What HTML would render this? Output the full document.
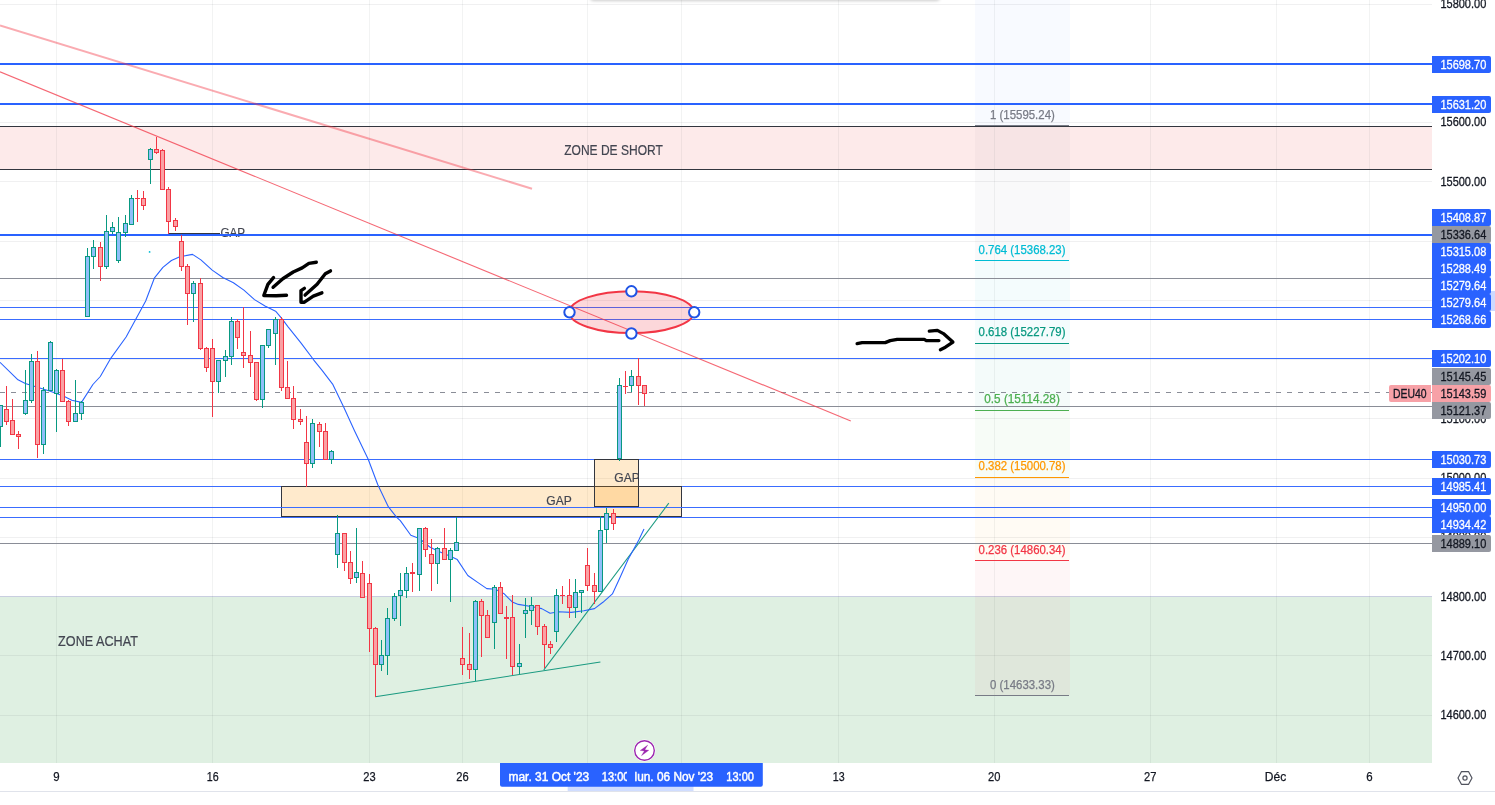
<!DOCTYPE html>
<html lang="fr"><head><meta charset="utf-8"><title>DEU40</title>
<style>
html,body{margin:0;padding:0;background:#fff;}
body{width:1495px;height:805px;overflow:hidden;font-family:"Liberation Sans", sans-serif;}
svg{display:block;position:absolute;left:0;top:0;}
text{font-family:"Liberation Sans", sans-serif;}
</style></head><body>
<svg width="1495" height="805" viewBox="0 0 1495 805">
<defs>
<clipPath id="chart"><rect x="0" y="0" width="1432" height="763"/></clipPath>
<clipPath id="gap2"><rect x="594" y="459" width="44.5" height="48"/></clipPath>
<clipPath id="lab1"><rect x="500" y="763" width="127" height="24"/></clipPath>
<filter id="blur" x="-5%" y="-100%" width="110%" height="300%"><feGaussianBlur stdDeviation="1.6"/></filter>
<linearGradient id="topsh" x1="0" y1="0" x2="0" y2="1"><stop offset="0" stop-color="#000" stop-opacity="0.13"/><stop offset="1" stop-color="#000" stop-opacity="0"/></linearGradient>
</defs>
<rect x="0" y="0" width="1495" height="805" fill="#ffffff"/>
<g clip-path="url(#chart)">

<g shape-rendering="crispEdges">
<rect x="0" y="127" width="1432" height="42" fill="#fdeaea"/>
<rect x="0" y="597" width="1432" height="166" fill="#dff0e2"/>
<rect x="0" y="596" width="1432" height="1" fill="#c9cee0"/>
<rect x="56" y="0" width="1" height="763" fill="#2a2e39" fill-opacity="0.06"/>
<rect x="212" y="0" width="1" height="763" fill="#2a2e39" fill-opacity="0.06"/>
<rect x="369" y="0" width="1" height="763" fill="#2a2e39" fill-opacity="0.06"/>
<rect x="462" y="0" width="1" height="763" fill="#2a2e39" fill-opacity="0.06"/>
<rect x="587" y="0" width="1" height="763" fill="#2a2e39" fill-opacity="0.06"/>
<rect x="681" y="0" width="1" height="763" fill="#2a2e39" fill-opacity="0.06"/>
<rect x="838" y="0" width="1" height="763" fill="#2a2e39" fill-opacity="0.06"/>
<rect x="994" y="0" width="1" height="763" fill="#2a2e39" fill-opacity="0.06"/>
<rect x="1150" y="0" width="1" height="763" fill="#2a2e39" fill-opacity="0.06"/>
<rect x="1276" y="0" width="1" height="763" fill="#2a2e39" fill-opacity="0.06"/>
<rect x="1369" y="0" width="1" height="763" fill="#2a2e39" fill-opacity="0.06"/>
<rect x="0" y="4" width="1432" height="1" fill="#2a2e39" fill-opacity="0.07"/>
<rect x="0" y="63" width="1432" height="1" fill="#2a2e39" fill-opacity="0.07"/>
<rect x="0" y="122" width="1432" height="1" fill="#2a2e39" fill-opacity="0.07"/>
<rect x="0" y="181" width="1432" height="1" fill="#2a2e39" fill-opacity="0.07"/>
<rect x="0" y="241" width="1432" height="1" fill="#2a2e39" fill-opacity="0.07"/>
<rect x="0" y="300" width="1432" height="1" fill="#2a2e39" fill-opacity="0.07"/>
<rect x="0" y="359" width="1432" height="1" fill="#2a2e39" fill-opacity="0.07"/>
<rect x="0" y="418" width="1432" height="1" fill="#2a2e39" fill-opacity="0.07"/>
<rect x="0" y="478" width="1432" height="1" fill="#2a2e39" fill-opacity="0.07"/>
<rect x="0" y="537" width="1432" height="1" fill="#2a2e39" fill-opacity="0.07"/>
<rect x="0" y="655" width="1432" height="1" fill="#2a2e39" fill-opacity="0.07"/>
<rect x="0" y="715" width="1432" height="1" fill="#2a2e39" fill-opacity="0.07"/>
<rect x="975" y="0" width="95" height="125" fill="#2962ff" fill-opacity="0.03"/>
<rect x="975" y="125" width="95" height="135" fill="#787b86" fill-opacity="0.045"/>
<rect x="975" y="260" width="95" height="83" fill="#00bcd4" fill-opacity="0.045"/>
<rect x="975" y="343" width="95" height="67" fill="#089981" fill-opacity="0.045"/>
<rect x="975" y="410" width="95" height="67" fill="#4caf50" fill-opacity="0.045"/>
<rect x="975" y="477" width="95" height="83" fill="#ff9800" fill-opacity="0.045"/>
<rect x="975" y="560" width="95" height="135" fill="#f23645" fill-opacity="0.045"/>
<rect x="0" y="126" width="1432" height="1" fill="#33363f"/>
<rect x="0" y="169" width="1432" height="1" fill="#33363f"/>
<rect x="0" y="278" width="1432" height="1" fill="#8a8d97"/>
<rect x="0" y="406" width="1432" height="1" fill="#8a8d97"/>
<rect x="0" y="543" width="1432" height="1" fill="#8a8d97"/>
<rect x="0" y="307" width="1432" height="1" fill="#3a6cff"/>
<rect x="0" y="319" width="1432" height="1" fill="#3a6cff"/>
<rect x="0" y="358" width="1432" height="1" fill="#3a6cff"/>
<rect x="0" y="459" width="1432" height="1" fill="#3a6cff"/>
<rect x="0" y="486" width="1432" height="1" fill="#3a6cff"/>
<rect x="0" y="507" width="1432" height="1" fill="#3a6cff"/>
<rect x="0" y="517" width="1432" height="1" fill="#3a6cff"/>
<rect x="0" y="392" width="5" height="1" fill="#8a8d97"/>
<rect x="11" y="392" width="5" height="1" fill="#8a8d97"/>
<rect x="22" y="392" width="5" height="1" fill="#8a8d97"/>
<rect x="33" y="392" width="5" height="1" fill="#8a8d97"/>
<rect x="44" y="392" width="5" height="1" fill="#8a8d97"/>
<rect x="55" y="392" width="5" height="1" fill="#8a8d97"/>
<rect x="66" y="392" width="5" height="1" fill="#8a8d97"/>
<rect x="77" y="392" width="5" height="1" fill="#8a8d97"/>
<rect x="88" y="392" width="5" height="1" fill="#8a8d97"/>
<rect x="99" y="392" width="5" height="1" fill="#8a8d97"/>
<rect x="110" y="392" width="5" height="1" fill="#8a8d97"/>
<rect x="121" y="392" width="5" height="1" fill="#8a8d97"/>
<rect x="132" y="392" width="5" height="1" fill="#8a8d97"/>
<rect x="143" y="392" width="5" height="1" fill="#8a8d97"/>
<rect x="154" y="392" width="5" height="1" fill="#8a8d97"/>
<rect x="165" y="392" width="5" height="1" fill="#8a8d97"/>
<rect x="176" y="392" width="5" height="1" fill="#8a8d97"/>
<rect x="187" y="392" width="5" height="1" fill="#8a8d97"/>
<rect x="198" y="392" width="5" height="1" fill="#8a8d97"/>
<rect x="209" y="392" width="5" height="1" fill="#8a8d97"/>
<rect x="220" y="392" width="5" height="1" fill="#8a8d97"/>
<rect x="231" y="392" width="5" height="1" fill="#8a8d97"/>
<rect x="242" y="392" width="5" height="1" fill="#8a8d97"/>
<rect x="253" y="392" width="5" height="1" fill="#8a8d97"/>
<rect x="264" y="392" width="5" height="1" fill="#8a8d97"/>
<rect x="275" y="392" width="5" height="1" fill="#8a8d97"/>
<rect x="286" y="392" width="5" height="1" fill="#8a8d97"/>
<rect x="297" y="392" width="5" height="1" fill="#8a8d97"/>
<rect x="308" y="392" width="5" height="1" fill="#8a8d97"/>
<rect x="319" y="392" width="5" height="1" fill="#8a8d97"/>
<rect x="330" y="392" width="5" height="1" fill="#8a8d97"/>
<rect x="341" y="392" width="5" height="1" fill="#8a8d97"/>
<rect x="352" y="392" width="5" height="1" fill="#8a8d97"/>
<rect x="363" y="392" width="5" height="1" fill="#8a8d97"/>
<rect x="374" y="392" width="5" height="1" fill="#8a8d97"/>
<rect x="385" y="392" width="5" height="1" fill="#8a8d97"/>
<rect x="396" y="392" width="5" height="1" fill="#8a8d97"/>
<rect x="407" y="392" width="5" height="1" fill="#8a8d97"/>
<rect x="418" y="392" width="5" height="1" fill="#8a8d97"/>
<rect x="429" y="392" width="5" height="1" fill="#8a8d97"/>
<rect x="440" y="392" width="5" height="1" fill="#8a8d97"/>
<rect x="451" y="392" width="5" height="1" fill="#8a8d97"/>
<rect x="462" y="392" width="5" height="1" fill="#8a8d97"/>
<rect x="473" y="392" width="5" height="1" fill="#8a8d97"/>
<rect x="484" y="392" width="5" height="1" fill="#8a8d97"/>
<rect x="495" y="392" width="5" height="1" fill="#8a8d97"/>
<rect x="506" y="392" width="5" height="1" fill="#8a8d97"/>
<rect x="517" y="392" width="5" height="1" fill="#8a8d97"/>
<rect x="528" y="392" width="5" height="1" fill="#8a8d97"/>
<rect x="539" y="392" width="5" height="1" fill="#8a8d97"/>
<rect x="550" y="392" width="5" height="1" fill="#8a8d97"/>
<rect x="561" y="392" width="5" height="1" fill="#8a8d97"/>
<rect x="572" y="392" width="5" height="1" fill="#8a8d97"/>
<rect x="583" y="392" width="5" height="1" fill="#8a8d97"/>
<rect x="594" y="392" width="5" height="1" fill="#8a8d97"/>
<rect x="605" y="392" width="5" height="1" fill="#8a8d97"/>
<rect x="616" y="392" width="5" height="1" fill="#8a8d97"/>
<rect x="627" y="392" width="5" height="1" fill="#8a8d97"/>
<rect x="638" y="392" width="5" height="1" fill="#8a8d97"/>
<rect x="649" y="392" width="5" height="1" fill="#8a8d97"/>
<rect x="660" y="392" width="5" height="1" fill="#8a8d97"/>
<rect x="671" y="392" width="5" height="1" fill="#8a8d97"/>
<rect x="682" y="392" width="5" height="1" fill="#8a8d97"/>
<rect x="693" y="392" width="5" height="1" fill="#8a8d97"/>
<rect x="704" y="392" width="5" height="1" fill="#8a8d97"/>
<rect x="715" y="392" width="5" height="1" fill="#8a8d97"/>
<rect x="726" y="392" width="5" height="1" fill="#8a8d97"/>
<rect x="737" y="392" width="5" height="1" fill="#8a8d97"/>
<rect x="748" y="392" width="5" height="1" fill="#8a8d97"/>
<rect x="759" y="392" width="5" height="1" fill="#8a8d97"/>
<rect x="770" y="392" width="5" height="1" fill="#8a8d97"/>
<rect x="781" y="392" width="5" height="1" fill="#8a8d97"/>
<rect x="792" y="392" width="5" height="1" fill="#8a8d97"/>
<rect x="803" y="392" width="5" height="1" fill="#8a8d97"/>
<rect x="814" y="392" width="5" height="1" fill="#8a8d97"/>
<rect x="825" y="392" width="5" height="1" fill="#8a8d97"/>
<rect x="836" y="392" width="5" height="1" fill="#8a8d97"/>
<rect x="847" y="392" width="5" height="1" fill="#8a8d97"/>
<rect x="858" y="392" width="5" height="1" fill="#8a8d97"/>
<rect x="869" y="392" width="5" height="1" fill="#8a8d97"/>
<rect x="880" y="392" width="5" height="1" fill="#8a8d97"/>
<rect x="891" y="392" width="5" height="1" fill="#8a8d97"/>
<rect x="902" y="392" width="5" height="1" fill="#8a8d97"/>
<rect x="913" y="392" width="5" height="1" fill="#8a8d97"/>
<rect x="924" y="392" width="5" height="1" fill="#8a8d97"/>
<rect x="935" y="392" width="5" height="1" fill="#8a8d97"/>
<rect x="946" y="392" width="5" height="1" fill="#8a8d97"/>
<rect x="957" y="392" width="5" height="1" fill="#8a8d97"/>
<rect x="968" y="392" width="5" height="1" fill="#8a8d97"/>
<rect x="979" y="392" width="5" height="1" fill="#8a8d97"/>
<rect x="990" y="392" width="5" height="1" fill="#8a8d97"/>
<rect x="1001" y="392" width="5" height="1" fill="#8a8d97"/>
<rect x="1012" y="392" width="5" height="1" fill="#8a8d97"/>
<rect x="1023" y="392" width="5" height="1" fill="#8a8d97"/>
<rect x="1034" y="392" width="5" height="1" fill="#8a8d97"/>
<rect x="1045" y="392" width="5" height="1" fill="#8a8d97"/>
<rect x="1056" y="392" width="5" height="1" fill="#8a8d97"/>
<rect x="1067" y="392" width="5" height="1" fill="#8a8d97"/>
<rect x="1078" y="392" width="5" height="1" fill="#8a8d97"/>
<rect x="1089" y="392" width="5" height="1" fill="#8a8d97"/>
<rect x="1100" y="392" width="5" height="1" fill="#8a8d97"/>
<rect x="1111" y="392" width="5" height="1" fill="#8a8d97"/>
<rect x="1122" y="392" width="5" height="1" fill="#8a8d97"/>
<rect x="1133" y="392" width="5" height="1" fill="#8a8d97"/>
<rect x="1144" y="392" width="5" height="1" fill="#8a8d97"/>
<rect x="1155" y="392" width="5" height="1" fill="#8a8d97"/>
<rect x="1166" y="392" width="5" height="1" fill="#8a8d97"/>
<rect x="1177" y="392" width="5" height="1" fill="#8a8d97"/>
<rect x="1188" y="392" width="5" height="1" fill="#8a8d97"/>
<rect x="1199" y="392" width="5" height="1" fill="#8a8d97"/>
<rect x="1210" y="392" width="5" height="1" fill="#8a8d97"/>
<rect x="1221" y="392" width="5" height="1" fill="#8a8d97"/>
<rect x="1232" y="392" width="5" height="1" fill="#8a8d97"/>
<rect x="1243" y="392" width="5" height="1" fill="#8a8d97"/>
<rect x="1254" y="392" width="5" height="1" fill="#8a8d97"/>
<rect x="1265" y="392" width="5" height="1" fill="#8a8d97"/>
<rect x="1276" y="392" width="5" height="1" fill="#8a8d97"/>
<rect x="1287" y="392" width="5" height="1" fill="#8a8d97"/>
<rect x="1298" y="392" width="5" height="1" fill="#8a8d97"/>
<rect x="1309" y="392" width="5" height="1" fill="#8a8d97"/>
<rect x="1320" y="392" width="5" height="1" fill="#8a8d97"/>
<rect x="1331" y="392" width="5" height="1" fill="#8a8d97"/>
<rect x="1342" y="392" width="5" height="1" fill="#8a8d97"/>
<rect x="1353" y="392" width="5" height="1" fill="#8a8d97"/>
<rect x="1364" y="392" width="5" height="1" fill="#8a8d97"/>
<rect x="1375" y="392" width="5" height="1" fill="#8a8d97"/>
<rect x="1386" y="392" width="5" height="1" fill="#8a8d97"/>
<rect x="1397" y="392" width="5" height="1" fill="#8a8d97"/>
<rect x="1408" y="392" width="5" height="1" fill="#8a8d97"/>
<rect x="1419" y="392" width="5" height="1" fill="#8a8d97"/>
<rect x="1430" y="392" width="2" height="1" fill="#8a8d97"/>
<rect x="168" y="233" width="52" height="1" fill="#33363f"/>
</g>
<text x="220.4" y="236.6" font-size="13.5" fill="#434651" stroke="#434651" stroke-width="0.2" textLength="24.7" lengthAdjust="spacingAndGlyphs">GAP</text>
<g shape-rendering="crispEdges">
<rect x="0" y="63" width="1432" height="2" fill="#2962ff"/>
<rect x="0" y="103" width="1432" height="2" fill="#2962ff"/>
<rect x="0" y="234" width="1432" height="2" fill="#2962ff"/>
<rect x="975" y="125" width="94" height="1" fill="#787b86"/>
<rect x="975" y="260" width="94" height="1" fill="#00bcd4"/>
<rect x="975" y="343" width="94" height="1" fill="#089981"/>
<rect x="975" y="410" width="94" height="1" fill="#4caf50"/>
<rect x="975" y="477" width="94" height="1" fill="#ff9800"/>
<rect x="975" y="560" width="94" height="1" fill="#f23645"/>
<rect x="975" y="695" width="94" height="1" fill="#787b86"/>
</g>
<text x="990.0" y="118.5" font-size="12.1" fill="#787b86" stroke="#787b86" stroke-width="0.25" textLength="64.8" lengthAdjust="spacingAndGlyphs">1 (15595.24)</text>
<text x="978.6" y="253.5" font-size="12.1" fill="#00bcd4" stroke="#00bcd4" stroke-width="0.25" textLength="86.9" lengthAdjust="spacingAndGlyphs">0.764 (15368.23)</text>
<text x="978.6" y="336.3" font-size="12.1" fill="#089981" stroke="#089981" stroke-width="0.25" textLength="86.9" lengthAdjust="spacingAndGlyphs">0.618 (15227.79)</text>
<text x="984.3000000000001" y="403.4" font-size="12.1" fill="#4caf50" stroke="#4caf50" stroke-width="0.25" textLength="75.5" lengthAdjust="spacingAndGlyphs">0.5 (15114.28)</text>
<text x="978.6" y="470.4" font-size="12.1" fill="#ff9800" stroke="#ff9800" stroke-width="0.25" textLength="86.9" lengthAdjust="spacingAndGlyphs">0.382 (15000.78)</text>
<text x="978.6" y="553.7" font-size="12.1" fill="#f23645" stroke="#f23645" stroke-width="0.25" textLength="86.9" lengthAdjust="spacingAndGlyphs">0.236 (14860.34)</text>
<text x="990.0" y="688.7" font-size="12.1" fill="#787b86" stroke="#787b86" stroke-width="0.25" textLength="64.8" lengthAdjust="spacingAndGlyphs">0 (14633.33)</text>
<g shape-rendering="crispEdges">
<rect x="281.5" y="486.5" width="400" height="30" fill="#ff9800" fill-opacity="0.2" stroke="#33363f" stroke-width="1"/>
<rect x="594.5" y="459.5" width="44" height="47" fill="#ff9800" fill-opacity="0.2" stroke="#33363f" stroke-width="1"/>
</g>
<text x="546.3" y="505.2" font-size="13.5" fill="#434651" stroke="#434651" stroke-width="0.2" textLength="25.4" lengthAdjust="spacingAndGlyphs">GAP</text>
<g clip-path="url(#gap2)"><text x="614.3" y="482.3" font-size="13.5" fill="#434651" stroke="#434651" stroke-width="0.2" textLength="25.4" lengthAdjust="spacingAndGlyphs">GAP</text></g>
<g shape-rendering="crispEdges">
<rect x="281" y="507" width="401" height="1" fill="#3a6cff"/>
<rect x="281" y="517" width="401" height="1" fill="#3a6cff"/>
</g>
<text x="564.2" y="155" font-size="14" fill="#434651" stroke="#434651" stroke-width="0.2" textLength="98.6" lengthAdjust="spacingAndGlyphs">ZONE DE SHORT</text>
<text x="58.1" y="646.1" font-size="14" fill="#434651" stroke="#434651" stroke-width="0.2" textLength="79.8" lengthAdjust="spacingAndGlyphs">ZONE ACHAT</text>
<line x1="0" y1="25.5" x2="532" y2="188.7" stroke="#f23645" stroke-opacity="0.42" stroke-width="2"/>
<line x1="0" y1="71.8" x2="850.8" y2="420.9" stroke="#f23645" stroke-opacity="0.75" stroke-width="1.1"/>
<line x1="375.3" y1="696.7" x2="600.4" y2="662.1" stroke="#1a9a80" stroke-width="1.05"/>
<line x1="543.8" y1="669.9" x2="668.8" y2="503.1" stroke="#1a9a80" stroke-width="1.05"/>
<polyline points="0.0,362.3 18.0,379.8 25.3,383.4 50.3,391.2 63.4,396.1 71.8,400.3 81.5,402.4 92.9,384.5 100.3,376.5 110.9,358.1 126.1,337.0 145.7,301.0 154.5,277.8 162.9,267.3 171.4,260.5 179.8,256.7 192.5,254.4 200.9,259.9 212.2,270.1 222.8,277.5 233.4,282.7 243.9,290.1 254.5,299.6 265.0,306.0 275.6,311.2 281.9,318.6 288.3,327.1 300.9,342.9 313.6,359.8 322.1,370.4 332.6,384.1 343.9,407.5 354.5,430.7 368.2,459.2 377.7,484.5 388.3,506.7 396.7,517.3 400.3,520.6 410.8,535.3 419.3,538.5 429.8,547.0 438.3,551.2 450.9,556.5 457.3,559.6 467.8,575.5 478.4,582.9 486.8,588.6 495.3,589.2 503.7,593.4 512.2,601.9 518.4,604.4 531.1,606.5 541.7,608.6 550.1,613.3 558.6,611.8 571.2,612.4 583.9,610.8 594.5,608.6 602.9,602.3 612.4,593.9 619.8,578.0 628.3,559.0 638.8,540.0 644.0,529.0" fill="none" stroke="#2962ff" stroke-width="1.08" stroke-linejoin="round"/>
<g shape-rendering="crispEdges">
<rect x="0" y="405" width="1" height="42" fill="#089981"/>
<rect x="-2" y="405" width="5" height="22" fill="#089981"/>
<rect x="-1" y="406" width="3" height="20" fill="#90bff9"/>
<rect x="6" y="386" width="1" height="39" fill="#f23645"/>
<rect x="4" y="409" width="5" height="13" fill="#f23645"/>
<rect x="5" y="410" width="3" height="11" fill="#faa1a4"/>
<rect x="12" y="399" width="1" height="36" fill="#f23645"/>
<rect x="10" y="420" width="5" height="15" fill="#f23645"/>
<rect x="11" y="421" width="3" height="13" fill="#faa1a4"/>
<rect x="18" y="431" width="1" height="18" fill="#f23645"/>
<rect x="16" y="434" width="5" height="3" fill="#f23645"/>
<rect x="17" y="435" width="3" height="1" fill="#faa1a4"/>
<rect x="25" y="370" width="1" height="45" fill="#089981"/>
<rect x="23" y="400" width="5" height="14" fill="#089981"/>
<rect x="24" y="401" width="3" height="12" fill="#90bff9"/>
<rect x="31" y="354" width="1" height="49" fill="#089981"/>
<rect x="29" y="361" width="5" height="40" fill="#089981"/>
<rect x="30" y="362" width="3" height="38" fill="#90bff9"/>
<rect x="37" y="351" width="1" height="107" fill="#f23645"/>
<rect x="35" y="361" width="5" height="84" fill="#f23645"/>
<rect x="36" y="362" width="3" height="82" fill="#faa1a4"/>
<rect x="43" y="387" width="1" height="67" fill="#089981"/>
<rect x="41" y="390" width="5" height="55" fill="#089981"/>
<rect x="42" y="391" width="3" height="53" fill="#90bff9"/>
<rect x="50" y="341" width="1" height="50" fill="#089981"/>
<rect x="48" y="342" width="5" height="49" fill="#089981"/>
<rect x="49" y="343" width="3" height="47" fill="#90bff9"/>
<rect x="56" y="369" width="1" height="63" fill="#089981"/>
<rect x="54" y="370" width="5" height="24" fill="#089981"/>
<rect x="55" y="371" width="3" height="22" fill="#90bff9"/>
<rect x="62" y="359" width="1" height="43" fill="#f23645"/>
<rect x="60" y="370" width="5" height="32" fill="#f23645"/>
<rect x="61" y="371" width="3" height="30" fill="#faa1a4"/>
<rect x="68" y="400" width="1" height="26" fill="#f23645"/>
<rect x="66" y="401" width="5" height="21" fill="#f23645"/>
<rect x="67" y="402" width="3" height="19" fill="#faa1a4"/>
<rect x="75" y="380" width="1" height="42" fill="#089981"/>
<rect x="73" y="413" width="5" height="9" fill="#089981"/>
<rect x="74" y="414" width="3" height="7" fill="#90bff9"/>
<rect x="81" y="401" width="1" height="19" fill="#089981"/>
<rect x="79" y="402" width="5" height="12" fill="#089981"/>
<rect x="80" y="403" width="3" height="10" fill="#90bff9"/>
<rect x="87" y="248" width="1" height="69" fill="#089981"/>
<rect x="85" y="256" width="5" height="61" fill="#089981"/>
<rect x="86" y="257" width="3" height="59" fill="#90bff9"/>
<rect x="93" y="240" width="1" height="29" fill="#089981"/>
<rect x="91" y="247" width="5" height="10" fill="#089981"/>
<rect x="92" y="248" width="3" height="8" fill="#90bff9"/>
<rect x="100" y="242" width="1" height="39" fill="#f23645"/>
<rect x="98" y="247" width="5" height="20" fill="#f23645"/>
<rect x="99" y="248" width="3" height="18" fill="#faa1a4"/>
<rect x="106" y="215" width="1" height="54" fill="#089981"/>
<rect x="104" y="231" width="5" height="36" fill="#089981"/>
<rect x="105" y="232" width="3" height="34" fill="#90bff9"/>
<rect x="112" y="222" width="1" height="12" fill="#089981"/>
<rect x="110" y="227" width="5" height="5" fill="#089981"/>
<rect x="111" y="228" width="3" height="3" fill="#90bff9"/>
<rect x="118" y="217" width="1" height="46" fill="#089981"/>
<rect x="116" y="232" width="5" height="29" fill="#089981"/>
<rect x="117" y="233" width="3" height="27" fill="#90bff9"/>
<rect x="125" y="215" width="1" height="22" fill="#089981"/>
<rect x="123" y="223" width="5" height="10" fill="#089981"/>
<rect x="124" y="224" width="3" height="8" fill="#90bff9"/>
<rect x="131" y="195" width="1" height="30" fill="#089981"/>
<rect x="129" y="198" width="5" height="27" fill="#089981"/>
<rect x="130" y="199" width="3" height="25" fill="#90bff9"/>
<rect x="137" y="190" width="1" height="32" fill="#f23645"/>
<rect x="135" y="198" width="5" height="1" fill="#f23645"/>
<rect x="143" y="191" width="1" height="19" fill="#f23645"/>
<rect x="141" y="198" width="5" height="8" fill="#f23645"/>
<rect x="142" y="199" width="3" height="6" fill="#faa1a4"/>
<rect x="150" y="148" width="1" height="36" fill="#089981"/>
<rect x="148" y="149" width="5" height="11" fill="#089981"/>
<rect x="149" y="150" width="3" height="9" fill="#90bff9"/>
<rect x="156" y="137" width="1" height="17" fill="#f23645"/>
<rect x="154" y="149" width="5" height="4" fill="#f23645"/>
<rect x="155" y="150" width="3" height="2" fill="#faa1a4"/>
<rect x="162" y="149" width="1" height="41" fill="#f23645"/>
<rect x="160" y="150" width="5" height="40" fill="#f23645"/>
<rect x="161" y="151" width="3" height="38" fill="#faa1a4"/>
<rect x="168" y="187" width="1" height="47" fill="#f23645"/>
<rect x="166" y="189" width="5" height="33" fill="#f23645"/>
<rect x="167" y="190" width="3" height="31" fill="#faa1a4"/>
<rect x="175" y="218" width="1" height="13" fill="#f23645"/>
<rect x="173" y="220" width="5" height="7" fill="#f23645"/>
<rect x="174" y="221" width="3" height="5" fill="#faa1a4"/>
<rect x="181" y="235" width="1" height="36" fill="#f23645"/>
<rect x="179" y="241" width="5" height="26" fill="#f23645"/>
<rect x="180" y="242" width="3" height="24" fill="#faa1a4"/>
<rect x="187" y="264" width="1" height="61" fill="#f23645"/>
<rect x="185" y="266" width="5" height="28" fill="#f23645"/>
<rect x="186" y="267" width="3" height="26" fill="#faa1a4"/>
<rect x="193" y="281" width="1" height="41" fill="#089981"/>
<rect x="191" y="283" width="5" height="11" fill="#089981"/>
<rect x="192" y="284" width="3" height="9" fill="#90bff9"/>
<rect x="200" y="278" width="1" height="72" fill="#f23645"/>
<rect x="198" y="283" width="5" height="66" fill="#f23645"/>
<rect x="199" y="284" width="3" height="64" fill="#faa1a4"/>
<rect x="206" y="347" width="1" height="25" fill="#f23645"/>
<rect x="204" y="348" width="5" height="20" fill="#f23645"/>
<rect x="205" y="349" width="3" height="18" fill="#faa1a4"/>
<rect x="212" y="339" width="1" height="78" fill="#f23645"/>
<rect x="210" y="348" width="5" height="34" fill="#f23645"/>
<rect x="211" y="349" width="3" height="32" fill="#faa1a4"/>
<rect x="218" y="360" width="1" height="33" fill="#089981"/>
<rect x="216" y="360" width="5" height="22" fill="#089981"/>
<rect x="217" y="361" width="3" height="20" fill="#90bff9"/>
<rect x="225" y="350" width="1" height="27" fill="#089981"/>
<rect x="223" y="356" width="5" height="5" fill="#089981"/>
<rect x="224" y="357" width="3" height="3" fill="#90bff9"/>
<rect x="231" y="317" width="1" height="48" fill="#089981"/>
<rect x="229" y="321" width="5" height="36" fill="#089981"/>
<rect x="230" y="322" width="3" height="34" fill="#90bff9"/>
<rect x="237" y="319" width="1" height="30" fill="#f23645"/>
<rect x="235" y="321" width="5" height="17" fill="#f23645"/>
<rect x="236" y="322" width="3" height="15" fill="#faa1a4"/>
<rect x="243" y="307" width="1" height="61" fill="#f23645"/>
<rect x="241" y="352" width="5" height="4" fill="#f23645"/>
<rect x="242" y="353" width="3" height="2" fill="#faa1a4"/>
<rect x="250" y="331" width="1" height="46" fill="#f23645"/>
<rect x="248" y="355" width="5" height="8" fill="#f23645"/>
<rect x="249" y="356" width="3" height="6" fill="#faa1a4"/>
<rect x="256" y="362" width="1" height="39" fill="#f23645"/>
<rect x="254" y="362" width="5" height="38" fill="#f23645"/>
<rect x="255" y="363" width="3" height="36" fill="#faa1a4"/>
<rect x="262" y="345" width="1" height="63" fill="#089981"/>
<rect x="260" y="345" width="5" height="55" fill="#089981"/>
<rect x="261" y="346" width="3" height="53" fill="#90bff9"/>
<rect x="268" y="329" width="1" height="19" fill="#089981"/>
<rect x="266" y="329" width="5" height="17" fill="#089981"/>
<rect x="267" y="330" width="3" height="15" fill="#90bff9"/>
<rect x="275" y="317" width="1" height="48" fill="#089981"/>
<rect x="273" y="319" width="5" height="15" fill="#089981"/>
<rect x="274" y="320" width="3" height="13" fill="#90bff9"/>
<rect x="281" y="317" width="1" height="74" fill="#f23645"/>
<rect x="279" y="319" width="5" height="69" fill="#f23645"/>
<rect x="280" y="320" width="3" height="67" fill="#faa1a4"/>
<rect x="287" y="361" width="1" height="38" fill="#f23645"/>
<rect x="285" y="387" width="5" height="12" fill="#f23645"/>
<rect x="286" y="388" width="3" height="10" fill="#faa1a4"/>
<rect x="293" y="386" width="1" height="43" fill="#f23645"/>
<rect x="291" y="398" width="5" height="22" fill="#f23645"/>
<rect x="292" y="399" width="3" height="20" fill="#faa1a4"/>
<rect x="300" y="409" width="1" height="16" fill="#f23645"/>
<rect x="298" y="419" width="5" height="3" fill="#f23645"/>
<rect x="299" y="420" width="3" height="1" fill="#faa1a4"/>
<rect x="306" y="416" width="1" height="71" fill="#f23645"/>
<rect x="304" y="442" width="5" height="22" fill="#f23645"/>
<rect x="305" y="443" width="3" height="20" fill="#faa1a4"/>
<rect x="312" y="419" width="1" height="49" fill="#089981"/>
<rect x="310" y="423" width="5" height="41" fill="#089981"/>
<rect x="311" y="424" width="3" height="39" fill="#90bff9"/>
<rect x="319" y="422" width="1" height="25" fill="#f23645"/>
<rect x="317" y="424" width="5" height="8" fill="#f23645"/>
<rect x="318" y="425" width="3" height="6" fill="#faa1a4"/>
<rect x="325" y="423" width="1" height="37" fill="#f23645"/>
<rect x="323" y="431" width="5" height="29" fill="#f23645"/>
<rect x="324" y="432" width="3" height="27" fill="#faa1a4"/>
<rect x="331" y="450" width="1" height="14" fill="#089981"/>
<rect x="329" y="451" width="5" height="9" fill="#089981"/>
<rect x="330" y="452" width="3" height="7" fill="#90bff9"/>
<rect x="337" y="515" width="1" height="53" fill="#089981"/>
<rect x="335" y="533" width="5" height="22" fill="#089981"/>
<rect x="336" y="534" width="3" height="20" fill="#90bff9"/>
<rect x="344" y="533" width="1" height="38" fill="#f23645"/>
<rect x="342" y="533" width="5" height="30" fill="#f23645"/>
<rect x="343" y="534" width="3" height="28" fill="#faa1a4"/>
<rect x="350" y="551" width="1" height="33" fill="#f23645"/>
<rect x="348" y="562" width="5" height="17" fill="#f23645"/>
<rect x="349" y="563" width="3" height="15" fill="#faa1a4"/>
<rect x="356" y="528" width="1" height="55" fill="#089981"/>
<rect x="354" y="572" width="5" height="6" fill="#089981"/>
<rect x="355" y="573" width="3" height="4" fill="#90bff9"/>
<rect x="362" y="561" width="1" height="37" fill="#f23645"/>
<rect x="360" y="573" width="5" height="25" fill="#f23645"/>
<rect x="361" y="574" width="3" height="23" fill="#faa1a4"/>
<rect x="369" y="574" width="1" height="78" fill="#f23645"/>
<rect x="367" y="583" width="5" height="46" fill="#f23645"/>
<rect x="368" y="584" width="3" height="44" fill="#faa1a4"/>
<rect x="375" y="627" width="1" height="70" fill="#f23645"/>
<rect x="373" y="628" width="5" height="37" fill="#f23645"/>
<rect x="374" y="629" width="3" height="35" fill="#faa1a4"/>
<rect x="381" y="640" width="1" height="31" fill="#089981"/>
<rect x="379" y="655" width="5" height="10" fill="#089981"/>
<rect x="380" y="656" width="3" height="8" fill="#90bff9"/>
<rect x="387" y="608" width="1" height="67" fill="#089981"/>
<rect x="385" y="618" width="5" height="38" fill="#089981"/>
<rect x="386" y="619" width="3" height="36" fill="#90bff9"/>
<rect x="394" y="593" width="1" height="28" fill="#089981"/>
<rect x="392" y="596" width="5" height="23" fill="#089981"/>
<rect x="393" y="597" width="3" height="21" fill="#90bff9"/>
<rect x="400" y="573" width="1" height="53" fill="#089981"/>
<rect x="398" y="590" width="5" height="6" fill="#089981"/>
<rect x="399" y="591" width="3" height="4" fill="#90bff9"/>
<rect x="406" y="567" width="1" height="31" fill="#089981"/>
<rect x="404" y="573" width="5" height="18" fill="#089981"/>
<rect x="405" y="574" width="3" height="16" fill="#90bff9"/>
<rect x="412" y="563" width="1" height="29" fill="#f23645"/>
<rect x="410" y="572" width="5" height="2" fill="#f23645"/>
<rect x="419" y="528" width="1" height="63" fill="#089981"/>
<rect x="417" y="528" width="5" height="47" fill="#089981"/>
<rect x="418" y="529" width="3" height="45" fill="#90bff9"/>
<rect x="425" y="527" width="1" height="30" fill="#f23645"/>
<rect x="423" y="528" width="5" height="22" fill="#f23645"/>
<rect x="424" y="529" width="3" height="20" fill="#faa1a4"/>
<rect x="431" y="539" width="1" height="52" fill="#f23645"/>
<rect x="429" y="554" width="5" height="10" fill="#f23645"/>
<rect x="430" y="555" width="3" height="8" fill="#faa1a4"/>
<rect x="437" y="547" width="1" height="37" fill="#089981"/>
<rect x="435" y="548" width="5" height="16" fill="#089981"/>
<rect x="436" y="549" width="3" height="14" fill="#90bff9"/>
<rect x="444" y="528" width="1" height="32" fill="#f23645"/>
<rect x="442" y="548" width="5" height="12" fill="#f23645"/>
<rect x="443" y="549" width="3" height="10" fill="#faa1a4"/>
<rect x="450" y="548" width="1" height="54" fill="#089981"/>
<rect x="448" y="550" width="5" height="10" fill="#089981"/>
<rect x="449" y="551" width="3" height="8" fill="#90bff9"/>
<rect x="456" y="517" width="1" height="34" fill="#089981"/>
<rect x="454" y="542" width="5" height="9" fill="#089981"/>
<rect x="455" y="543" width="3" height="7" fill="#90bff9"/>
<rect x="462" y="627" width="1" height="48" fill="#f23645"/>
<rect x="460" y="658" width="5" height="7" fill="#f23645"/>
<rect x="461" y="659" width="3" height="5" fill="#faa1a4"/>
<rect x="469" y="633" width="1" height="46" fill="#f23645"/>
<rect x="467" y="664" width="5" height="6" fill="#f23645"/>
<rect x="468" y="665" width="3" height="4" fill="#faa1a4"/>
<rect x="475" y="600" width="1" height="81" fill="#089981"/>
<rect x="473" y="601" width="5" height="69" fill="#089981"/>
<rect x="474" y="602" width="3" height="67" fill="#90bff9"/>
<rect x="481" y="599" width="1" height="58" fill="#f23645"/>
<rect x="479" y="601" width="5" height="15" fill="#f23645"/>
<rect x="480" y="602" width="3" height="13" fill="#faa1a4"/>
<rect x="487" y="610" width="1" height="28" fill="#f23645"/>
<rect x="485" y="615" width="5" height="23" fill="#f23645"/>
<rect x="486" y="616" width="3" height="21" fill="#faa1a4"/>
<rect x="494" y="585" width="1" height="64" fill="#089981"/>
<rect x="492" y="587" width="5" height="36" fill="#089981"/>
<rect x="493" y="588" width="3" height="34" fill="#90bff9"/>
<rect x="500" y="582" width="1" height="32" fill="#f23645"/>
<rect x="498" y="587" width="5" height="27" fill="#f23645"/>
<rect x="499" y="588" width="3" height="25" fill="#faa1a4"/>
<rect x="506" y="606" width="1" height="53" fill="#f23645"/>
<rect x="504" y="617" width="5" height="2" fill="#f23645"/>
<rect x="512" y="595" width="1" height="80" fill="#f23645"/>
<rect x="510" y="617" width="5" height="50" fill="#f23645"/>
<rect x="511" y="618" width="3" height="48" fill="#faa1a4"/>
<rect x="519" y="644" width="1" height="30" fill="#089981"/>
<rect x="517" y="663" width="5" height="4" fill="#089981"/>
<rect x="518" y="664" width="3" height="2" fill="#90bff9"/>
<rect x="525" y="598" width="1" height="40" fill="#089981"/>
<rect x="523" y="610" width="5" height="4" fill="#089981"/>
<rect x="524" y="611" width="3" height="2" fill="#90bff9"/>
<rect x="531" y="597" width="1" height="28" fill="#089981"/>
<rect x="529" y="605" width="5" height="6" fill="#089981"/>
<rect x="530" y="606" width="3" height="4" fill="#90bff9"/>
<rect x="537" y="605" width="1" height="30" fill="#f23645"/>
<rect x="535" y="605" width="5" height="22" fill="#f23645"/>
<rect x="536" y="606" width="3" height="20" fill="#faa1a4"/>
<rect x="544" y="624" width="1" height="44" fill="#f23645"/>
<rect x="542" y="626" width="5" height="19" fill="#f23645"/>
<rect x="543" y="627" width="3" height="17" fill="#faa1a4"/>
<rect x="550" y="641" width="1" height="13" fill="#f23645"/>
<rect x="548" y="644" width="5" height="4" fill="#f23645"/>
<rect x="549" y="645" width="3" height="2" fill="#faa1a4"/>
<rect x="556" y="589" width="1" height="53" fill="#089981"/>
<rect x="554" y="595" width="5" height="37" fill="#089981"/>
<rect x="555" y="596" width="3" height="35" fill="#90bff9"/>
<rect x="562" y="586" width="1" height="18" fill="#f23645"/>
<rect x="560" y="595" width="5" height="1" fill="#f23645"/>
<rect x="569" y="579" width="1" height="39" fill="#f23645"/>
<rect x="567" y="595" width="5" height="13" fill="#f23645"/>
<rect x="568" y="596" width="3" height="11" fill="#faa1a4"/>
<rect x="575" y="579" width="1" height="39" fill="#089981"/>
<rect x="573" y="592" width="5" height="16" fill="#089981"/>
<rect x="574" y="593" width="3" height="14" fill="#90bff9"/>
<rect x="581" y="590" width="1" height="23" fill="#089981"/>
<rect x="579" y="590" width="5" height="3" fill="#089981"/>
<rect x="580" y="591" width="3" height="1" fill="#90bff9"/>
<rect x="587" y="548" width="1" height="43" fill="#f23645"/>
<rect x="585" y="565" width="5" height="21" fill="#f23645"/>
<rect x="586" y="566" width="3" height="19" fill="#faa1a4"/>
<rect x="594" y="573" width="1" height="31" fill="#f23645"/>
<rect x="592" y="585" width="5" height="7" fill="#f23645"/>
<rect x="593" y="586" width="3" height="5" fill="#faa1a4"/>
<rect x="600" y="516" width="1" height="76" fill="#089981"/>
<rect x="598" y="530" width="5" height="62" fill="#089981"/>
<rect x="599" y="531" width="3" height="60" fill="#90bff9"/>
<rect x="606" y="508" width="1" height="35" fill="#089981"/>
<rect x="604" y="513" width="5" height="17" fill="#089981"/>
<rect x="605" y="514" width="3" height="15" fill="#90bff9"/>
<rect x="613" y="509" width="1" height="21" fill="#f23645"/>
<rect x="611" y="513" width="5" height="11" fill="#f23645"/>
<rect x="612" y="514" width="3" height="9" fill="#faa1a4"/>
<rect x="619" y="378" width="1" height="83" fill="#089981"/>
<rect x="617" y="385" width="5" height="74" fill="#089981"/>
<rect x="618" y="386" width="3" height="72" fill="#90bff9"/>
<rect x="625" y="371" width="1" height="23" fill="#f23645"/>
<rect x="623" y="386" width="5" height="1" fill="#f23645"/>
<rect x="631" y="370" width="1" height="22" fill="#089981"/>
<rect x="629" y="376" width="5" height="10" fill="#089981"/>
<rect x="630" y="377" width="3" height="8" fill="#90bff9"/>
<rect x="638" y="358" width="1" height="47" fill="#f23645"/>
<rect x="636" y="376" width="5" height="10" fill="#f23645"/>
<rect x="637" y="377" width="3" height="8" fill="#faa1a4"/>
<rect x="644" y="385" width="1" height="21" fill="#f23645"/>
<rect x="642" y="385" width="5" height="9" fill="#f23645"/>
<rect x="643" y="386" width="3" height="7" fill="#faa1a4"/>
</g>
<circle cx="149.6" cy="251.9" r="0.9" fill="#00bcd4"/>
<ellipse cx="631.5" cy="312.2" rx="62.2" ry="20.9" fill="#f23645" fill-opacity="0.2" stroke="#f23645" stroke-width="2"/>
<circle cx="631.4" cy="291.3" r="5.2" fill="#fff" stroke="#1e53e5" stroke-width="2"/>
<circle cx="631.4" cy="333.5" r="5.2" fill="#fff" stroke="#1e53e5" stroke-width="2"/>
<circle cx="569.5" cy="312.3" r="5.2" fill="#fff" stroke="#1e53e5" stroke-width="2"/>
<circle cx="694.2" cy="312.3" r="5.2" fill="#fff" stroke="#1e53e5" stroke-width="2"/>
<path d="M316.3 262.3 L308.9 263.4 L302.2 267.9 L293.2 272 L282.8 278.7 L273.1 287.3" fill="none" stroke="#000" stroke-width="3.4" stroke-linecap="round" stroke-linejoin="round"/>
<path d="M273.5 277.6 L267.9 284.3 L263.8 295.5 L276.1 295.8 L286.5 295.3" fill="none" stroke="#000" stroke-width="3.4" stroke-linecap="round" stroke-linejoin="round"/>
<path d="M330.5 270.9 L325.3 273.8 L317.1 284.3 L305.1 295.1" fill="none" stroke="#000" stroke-width="3.4" stroke-linecap="round" stroke-linejoin="round"/>
<path d="M304.4 288.4 L301 290.6 L301 302.2 L304.4 302.2 L313.3 296.2 L321.9 292.8" fill="none" stroke="#000" stroke-width="3.4" stroke-linecap="round" stroke-linejoin="round"/>
<path d="M857.1 343.6 L862.1 342.6 L885.2 342.6 L890.2 340.6 L897.2 339.4 L924.3 339.4 L926.3 340.6 L938.9 340.6" fill="none" stroke="#000" stroke-width="3.3" stroke-linecap="round" stroke-linejoin="round"/>
<path d="M929.3 331.1 L937.4 330.4 L943.4 333.6 L948.4 338.1 L952.9 342.1 L945.4 347.2 L940.4 349.7" fill="none" stroke="#000" stroke-width="3.3" stroke-linecap="round" stroke-linejoin="round"/>
<circle cx="644.5" cy="750.5" r="10.9" fill="#fff"/>
<circle cx="644.5" cy="750.5" r="9.8" fill="#fff" stroke="#9c27b0" stroke-width="1.4"/>
<path d="M647.8 745 L640.1 750.5 L644.3 750.9 L641.4 755.8 L648.9 750.2 L644.9 749.7 Z" fill="#9c27b0" stroke="#9c27b0" stroke-width="0.25" stroke-linejoin="round"/>
<rect x="590" y="-8" width="350" height="9" rx="4" fill="#000" fill-opacity="0.2" filter="url(#blur)"/>
</g>
<text x="1440.4" y="7.9" font-size="12.6" fill="#131722" stroke="#131722" stroke-width="0.3" textLength="45.9" lengthAdjust="spacingAndGlyphs">15800.00</text>
<text x="1440.4" y="126.2" font-size="12.6" fill="#131722" stroke="#131722" stroke-width="0.3" textLength="45.9" lengthAdjust="spacingAndGlyphs">15600.00</text>
<text x="1440.4" y="185.7" font-size="12.6" fill="#131722" stroke="#131722" stroke-width="0.3" textLength="45.9" lengthAdjust="spacingAndGlyphs">15500.00</text>
<text x="1440.4" y="422.6" font-size="12.6" fill="#131722" stroke="#131722" stroke-width="0.3" textLength="45.9" lengthAdjust="spacingAndGlyphs">15100.00</text>
<text x="1440.4" y="481.6" font-size="12.6" fill="#131722" stroke="#131722" stroke-width="0.3" textLength="45.9" lengthAdjust="spacingAndGlyphs">15000.00</text>
<text x="1440.4" y="541.1" font-size="12.6" fill="#131722" stroke="#131722" stroke-width="0.3" textLength="45.9" lengthAdjust="spacingAndGlyphs">14900.00</text>
<text x="1440.4" y="601.0" font-size="12.6" fill="#131722" stroke="#131722" stroke-width="0.3" textLength="45.9" lengthAdjust="spacingAndGlyphs">14800.00</text>
<text x="1440.4" y="660.0" font-size="12.6" fill="#131722" stroke="#131722" stroke-width="0.3" textLength="45.9" lengthAdjust="spacingAndGlyphs">14700.00</text>
<text x="1440.4" y="719.1" font-size="12.6" fill="#131722" stroke="#131722" stroke-width="0.3" textLength="45.9" lengthAdjust="spacingAndGlyphs">14600.00</text>
<rect x="1432" y="291" width="63" height="20" fill="#2962ff" fill-opacity="0.24"/>
<path d="M1432 56 H1489 a2 2 0 0 1 2 2 V71 a2 2 0 0 1 -2 2 H1432 Z" fill="#2962ff"/>
<text x="1440.4" y="68.9" font-size="12.6" fill="#fff" stroke="#fff" stroke-width="0.3" textLength="45.9" lengthAdjust="spacingAndGlyphs">15698.70</text>
<path d="M1432 96 H1489 a2 2 0 0 1 2 2 V111 a2 2 0 0 1 -2 2 H1432 Z" fill="#2962ff"/>
<text x="1440.4" y="108.9" font-size="12.6" fill="#fff" stroke="#fff" stroke-width="0.3" textLength="45.9" lengthAdjust="spacingAndGlyphs">15631.20</text>
<path d="M1432 209 H1489 a2 2 0 0 1 2 2 V224 a2 2 0 0 1 -2 2 H1432 Z" fill="#2962ff"/>
<text x="1440.4" y="221.9" font-size="12.6" fill="#fff" stroke="#fff" stroke-width="0.3" textLength="45.9" lengthAdjust="spacingAndGlyphs">15408.87</text>
<path d="M1432 226 H1489 a2 2 0 0 1 2 2 V241 a2 2 0 0 1 -2 2 H1432 Z" fill="#9598a1"/>
<text x="1440.4" y="238.9" font-size="12.6" fill="#131722" stroke="#131722" stroke-width="0.3" textLength="45.9" lengthAdjust="spacingAndGlyphs">15336.64</text>
<path d="M1432 243 H1489 a2 2 0 0 1 2 2 V258 a2 2 0 0 1 -2 2 H1432 Z" fill="#2962ff"/>
<text x="1440.4" y="255.9" font-size="12.6" fill="#fff" stroke="#fff" stroke-width="0.3" textLength="45.9" lengthAdjust="spacingAndGlyphs">15315.08</text>
<path d="M1432 260 H1489 a2 2 0 0 1 2 2 V275 a2 2 0 0 1 -2 2 H1432 Z" fill="#2962ff"/>
<text x="1440.4" y="272.9" font-size="12.6" fill="#fff" stroke="#fff" stroke-width="0.3" textLength="45.9" lengthAdjust="spacingAndGlyphs">15288.49</text>
<path d="M1432 277 H1489 a2 2 0 0 1 2 2 V292 a2 2 0 0 1 -2 2 H1432 Z" fill="#2962ff"/>
<text x="1440.4" y="289.9" font-size="12.6" fill="#fff" stroke="#fff" stroke-width="0.3" textLength="45.9" lengthAdjust="spacingAndGlyphs">15279.64</text>
<path d="M1432 294 H1489 a2 2 0 0 1 2 2 V309 a2 2 0 0 1 -2 2 H1432 Z" fill="#2962ff"/>
<text x="1440.4" y="306.9" font-size="12.6" fill="#fff" stroke="#fff" stroke-width="0.3" textLength="45.9" lengthAdjust="spacingAndGlyphs">15279.64</text>
<path d="M1432 311 H1489 a2 2 0 0 1 2 2 V326 a2 2 0 0 1 -2 2 H1432 Z" fill="#2962ff"/>
<text x="1440.4" y="323.9" font-size="12.6" fill="#fff" stroke="#fff" stroke-width="0.3" textLength="45.9" lengthAdjust="spacingAndGlyphs">15268.66</text>
<path d="M1432 350 H1489 a2 2 0 0 1 2 2 V365 a2 2 0 0 1 -2 2 H1432 Z" fill="#2962ff"/>
<text x="1440.4" y="362.9" font-size="12.6" fill="#fff" stroke="#fff" stroke-width="0.3" textLength="45.9" lengthAdjust="spacingAndGlyphs">15202.10</text>
<path d="M1432 368 H1489 a2 2 0 0 1 2 2 V383 a2 2 0 0 1 -2 2 H1432 Z" fill="#9598a1"/>
<text x="1440.4" y="380.9" font-size="12.6" fill="#131722" stroke="#131722" stroke-width="0.3" textLength="45.9" lengthAdjust="spacingAndGlyphs">15145.45</text>
<path d="M1432 385 H1489 a2 2 0 0 1 2 2 V400 a2 2 0 0 1 -2 2 H1432 Z" fill="#f7a1a7"/>
<text x="1440.4" y="397.9" font-size="12.6" fill="#131722" stroke="#131722" stroke-width="0.3" textLength="45.9" lengthAdjust="spacingAndGlyphs">15143.59</text>
<path d="M1432 402 H1489 a2 2 0 0 1 2 2 V417 a2 2 0 0 1 -2 2 H1432 Z" fill="#9598a1"/>
<text x="1440.4" y="414.9" font-size="12.6" fill="#131722" stroke="#131722" stroke-width="0.3" textLength="45.9" lengthAdjust="spacingAndGlyphs">15121.37</text>
<path d="M1432 451 H1489 a2 2 0 0 1 2 2 V466 a2 2 0 0 1 -2 2 H1432 Z" fill="#2962ff"/>
<text x="1440.4" y="463.9" font-size="12.6" fill="#fff" stroke="#fff" stroke-width="0.3" textLength="45.9" lengthAdjust="spacingAndGlyphs">15030.73</text>
<path d="M1432 478 H1489 a2 2 0 0 1 2 2 V493 a2 2 0 0 1 -2 2 H1432 Z" fill="#2962ff"/>
<text x="1440.4" y="490.9" font-size="12.6" fill="#fff" stroke="#fff" stroke-width="0.3" textLength="45.9" lengthAdjust="spacingAndGlyphs">14985.41</text>
<path d="M1432 499 H1489 a2 2 0 0 1 2 2 V514 a2 2 0 0 1 -2 2 H1432 Z" fill="#2962ff"/>
<text x="1440.4" y="511.9" font-size="12.6" fill="#fff" stroke="#fff" stroke-width="0.3" textLength="45.9" lengthAdjust="spacingAndGlyphs">14950.00</text>
<path d="M1432 516 H1489 a2 2 0 0 1 2 2 V531 a2 2 0 0 1 -2 2 H1432 Z" fill="#2962ff"/>
<text x="1440.4" y="528.9" font-size="12.6" fill="#fff" stroke="#fff" stroke-width="0.3" textLength="45.9" lengthAdjust="spacingAndGlyphs">14934.42</text>
<path d="M1432 535 H1489 a2 2 0 0 1 2 2 V550 a2 2 0 0 1 -2 2 H1432 Z" fill="#9598a1"/>
<text x="1440.4" y="547.9" font-size="12.6" fill="#131722" stroke="#131722" stroke-width="0.3" textLength="45.9" lengthAdjust="spacingAndGlyphs">14889.10</text>
<path d="M1391 385 H1431 V402 H1391 a2 2 0 0 1 -2 -2 V387 a2 2 0 0 1 2 -2 Z" fill="#f7a1a7"/>
<text x="1393" y="398" font-size="12.6" fill="#131722" stroke="#131722" stroke-width="0.3" textLength="33.6" lengthAdjust="spacingAndGlyphs">DEU40</text>
<text x="53.2" y="781.1" font-size="12.4" fill="#131722" stroke="#131722" stroke-width="0.25" textLength="6.4" lengthAdjust="spacingAndGlyphs">9</text>
<text x="206.7" y="781.1" font-size="12.4" fill="#131722" stroke="#131722" stroke-width="0.25" textLength="11.9" lengthAdjust="spacingAndGlyphs">16</text>
<text x="363.2" y="781.1" font-size="12.4" fill="#131722" stroke="#131722" stroke-width="0.25" textLength="12.4" lengthAdjust="spacingAndGlyphs">23</text>
<text x="456.2" y="781.1" font-size="12.4" fill="#131722" stroke="#131722" stroke-width="0.25" textLength="12.4" lengthAdjust="spacingAndGlyphs">26</text>
<text x="832.8" y="781.1" font-size="12.4" fill="#131722" stroke="#131722" stroke-width="0.25" textLength="11.9" lengthAdjust="spacingAndGlyphs">13</text>
<text x="988.0" y="781.1" font-size="12.4" fill="#131722" stroke="#131722" stroke-width="0.25" textLength="12.4" lengthAdjust="spacingAndGlyphs">20</text>
<text x="1144.0" y="781.1" font-size="12.4" fill="#131722" stroke="#131722" stroke-width="0.25" textLength="12.4" lengthAdjust="spacingAndGlyphs">27</text>
<text x="1264.8" y="781.1" font-size="12.4" fill="#131722" stroke="#131722" stroke-width="0.25" textLength="21.4" lengthAdjust="spacingAndGlyphs">Déc</text>
<text x="1366.3" y="781.1" font-size="12.4" fill="#131722" stroke="#131722" stroke-width="0.25" textLength="6.4" lengthAdjust="spacingAndGlyphs">6</text>
<rect x="567.7" y="786" width="125.8" height="5" fill="#2962ff" fill-opacity="0.22"/>
<path d="M500 763 H762.8 V784.7 a2 2 0 0 1 -2 2 H502 a2 2 0 0 1 -2 -2 Z" fill="#2962ff"/>
<g clip-path="url(#lab1)"><text x="508.5" y="780.8" font-size="12" fill="#fff" stroke="#fff" stroke-width="0.45" textLength="80.7" lengthAdjust="spacingAndGlyphs">mar. 31 Oct '23</text><text x="601.8" y="780.8" font-size="12" fill="#fff" stroke="#fff" stroke-width="0.45" textLength="27.6" lengthAdjust="spacingAndGlyphs">13:00</text></g>
<text x="634.5" y="780.8" font-size="12" fill="#fff" stroke="#fff" stroke-width="0.45" textLength="78.7" lengthAdjust="spacingAndGlyphs">lun. 06 Nov '23</text><text x="726.3" y="780.8" font-size="12" fill="#fff" stroke="#fff" stroke-width="0.45" textLength="27.6" lengthAdjust="spacingAndGlyphs">13:00</text>
<rect x="0" y="791" width="1495" height="1" fill="#e0e3eb"/>
<path d="M1461.4 771.7 H1468.6 L1472 778 L1468.6 784.3 H1461.4 L1458 778 Z" fill="none" stroke="#50535e" stroke-width="1.2" stroke-linejoin="round"/>
<circle cx="1465" cy="778" r="2.1" fill="none" stroke="#50535e" stroke-width="1.2"/>
</svg></body></html>
